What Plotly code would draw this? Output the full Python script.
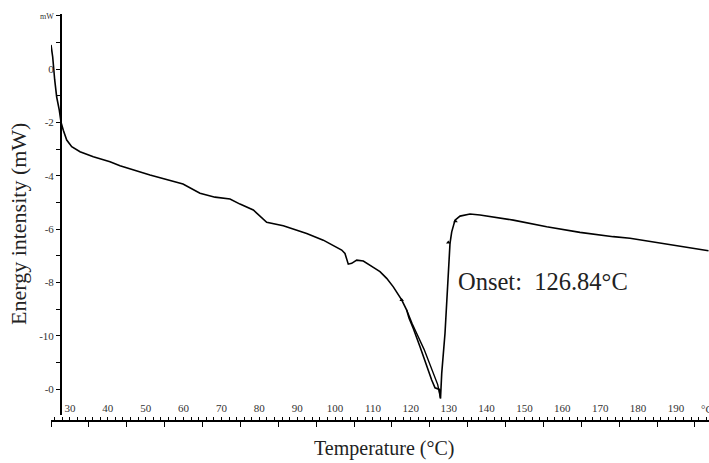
import plotly.graph_objects as go

# Main DSC curve (temperature in °C, heat flow in mW)
temp = [25.0, 25.45, 25.98, 26.5, 27.19, 27.64, 28.25, 29.15, 30.47, 32.66, 36.17, 40.58, 43.22,
        51.14, 59.85, 64.34, 68.3, 72.26, 74.9, 78.41, 81.95, 86.33, 92.51, 96.89, 101.75,
        102.62, 103.49, 104.39, 105.71, 107.46, 110.1, 111.86, 113.63, 115.38, 117.59, 118.91,
        119.52, 120.66, 122.43, 124.19, 125.51, 126.39, 127.52, 127.84, 128.16, 129.03, 129.74,
        130.35, 130.8, 131.67, 132.99, 135.63, 138.27, 147.06, 155.88, 164.67, 173.46, 177.87, 198.6]
heat = [0.9, 0.45, -0.41, -1.05, -1.54, -1.99, -2.29, -2.66, -2.91, -3.1, -3.29, -3.47, -3.62,
        -3.97, -4.31, -4.65, -4.8, -4.87, -5.06, -5.28, -5.74, -5.87, -6.16, -6.41, -6.78,
        -6.91, -7.31, -7.28, -7.16, -7.19, -7.43, -7.59, -7.84, -8.16, -8.65, -9.03,
        -9.33, -9.72, -10.4, -11.15, -11.65, -11.94, -12.0, -12.34, -11.4, -9.9, -8.03,
        -6.53, -6.1, -5.66, -5.51, -5.43, -5.47, -5.66, -5.91, -6.12, -6.28, -6.34, -6.81]

# Second (parallel) branch near the melting peak
temp2 = [118.91, 120.4, 123.5, 125.7, 127.1, 127.84]
heat2 = [-9.03, -9.55, -10.5, -11.3, -11.82, -12.34]

# Small onset markers
mark_t = [117.59, 129.9, 131.8]
mark_h = [-8.65, -6.5, -5.7]

x_tickvals = [30, 40, 50, 60, 70, 80, 90, 100, 110, 120, 130, 140, 150, 160, 170, 180, 190]
x_ticktext = [str(v) for v in x_tickvals]
y_tickvals = [2, 0, -2, -4, -6, -8, -10, -12]
y_ticktext = ['<span style="font-size:8px">mW</span>', "0", "-2", "-4", "-6", "-8", "-10", "-0"]

FONT = "Liberation Serif, Times New Roman, serif"
X_RANGE = [25, 198.73]
Y_RANGE = [-12.96, 2.06]

fig = go.Figure()
fig.add_trace(go.Scatter(x=temp, y=heat, mode="lines",
                         line=dict(color="black", width=1.6), showlegend=False))
fig.add_trace(go.Scatter(x=temp2, y=heat2, mode="lines",
                         line=dict(color="black", width=1.4), showlegend=False))
fig.add_trace(go.Scatter(x=mark_t, y=mark_h, mode="markers", xaxis="x2",
                         marker=dict(symbol="triangle-up", size=4, color="black"),
                         showlegend=False))

fig.update_layout(
    width=709, height=463,
    margin=dict(l=51, r=0, t=14, b=42),
    paper_bgcolor="white", plot_bgcolor="white",
    font=dict(family=FONT, color="#222"),
    xaxis=dict(
        range=X_RANGE, domain=[0, 1], anchor="free", position=0,
        showgrid=False, zeroline=False, showline=True, linecolor="black", linewidth=1.5,
        tickvals=x_tickvals, ticktext=x_ticktext,
        ticks="inside", ticklen=3, tickwidth=1, tickcolor="black",
        ticklabelposition="inside", tickfont=dict(size=11, family=FONT, color="#333"),
        ticklabelstandoff=2,
        minor=dict(ticks="inside", dtick=2, tick0=0, ticklen=3, tickwidth=1, tickcolor="black"),
    ),
    xaxis2=dict(
        range=X_RANGE, overlaying="x", anchor="free", position=0,
        showgrid=False, zeroline=False, showline=False,
        tick0=25, dtick=10, ticks="outside", ticklen=5, tickwidth=1, tickcolor="black",
        showticklabels=False,
    ),
    yaxis=dict(
        range=Y_RANGE, domain=[0.0147, 1], anchor="free", position=10 / 658,
        showgrid=False, zeroline=False, showline=True, linecolor="black", linewidth=2,
        tickvals=y_tickvals, ticktext=y_ticktext,
        ticks="outside", ticklen=4, tickwidth=1.2, tickcolor="black",
        tickfont=dict(size=11, family=FONT, color="#333"),
        minor=dict(ticks="outside", dtick=1, tick0=0, ticklen=4, tickwidth=1.2, tickcolor="black"),
    ),
    annotations=[
        dict(text="Temperature (°C)", xref="paper", yref="paper", x=(384 - 51) / 658,
             y=(421 - 448) / 407, xanchor="center", yanchor="middle", showarrow=False,
             font=dict(size=20, family=FONT, color="#222")),
        dict(text="Energy intensity (mW)", xref="paper", yref="paper", x=(19 - 51) / 658,
             y=(421 - 224) / 407, xanchor="center", yanchor="middle", showarrow=False,
             textangle=-90, font=dict(size=22, family=FONT, color="#222")),
        dict(text="Onset:  126.84°C", xref="paper", yref="paper", x=(456 - 51) / 658,
             y=(421 - 281) / 407, xanchor="left", yanchor="middle", showarrow=False,
             font=dict(size=24.5, family=FONT, color="#222")),
        dict(text="°C", xref="paper", yref="paper", x=(698.5 - 51) / 658,
             y=(421 - 409) / 407, xanchor="left", yanchor="middle", showarrow=False,
             font=dict(size=11, family=FONT, color="#333")),
    ],
)

fig.write_html("out.html", config={"displayModeBar": False},
               post_script="document.body.style.margin='0';document.body.style.overflow='hidden';")
